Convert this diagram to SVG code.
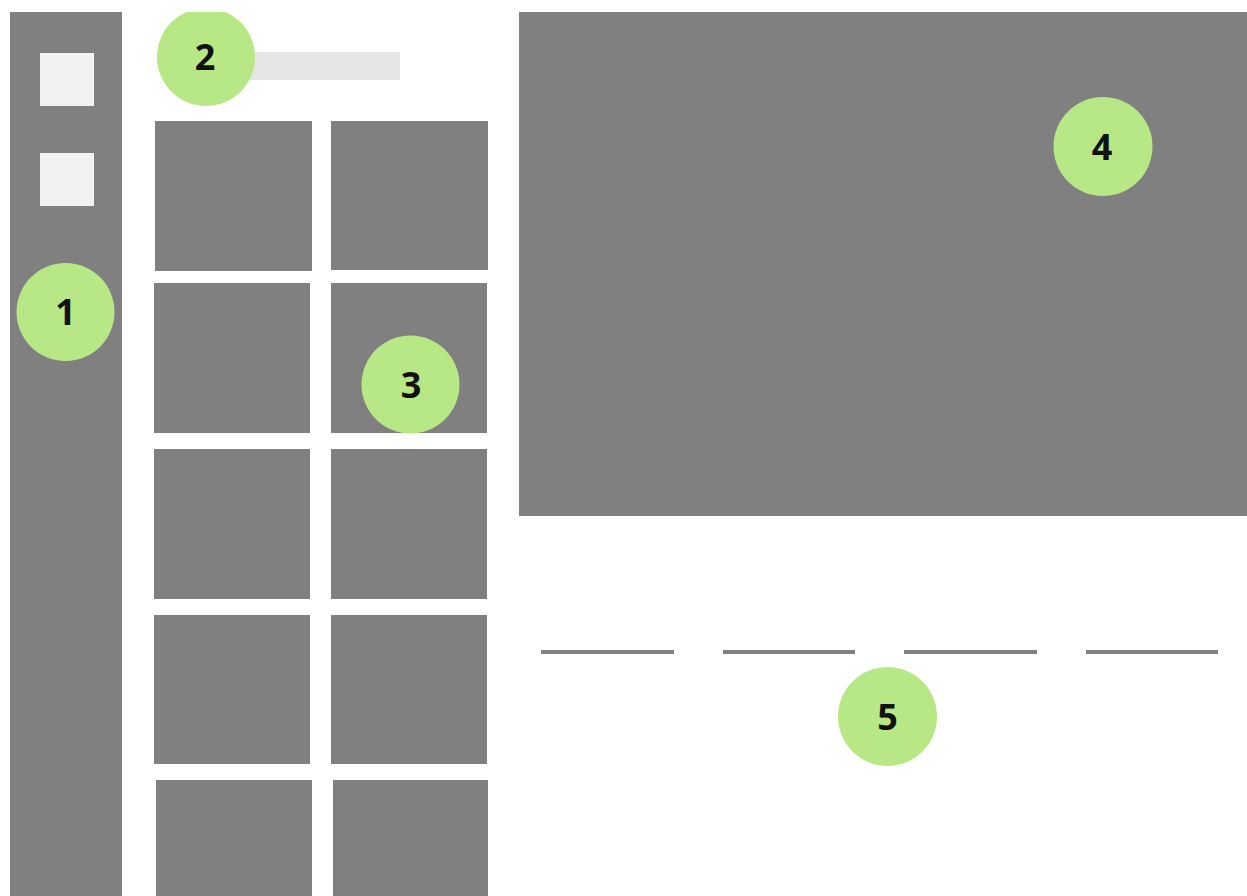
<svg xmlns="http://www.w3.org/2000/svg" width="1247" height="896" viewBox="0 0 1247 896">
  <defs>
    <style>
      .block { fill: #808080; }
      .icon { fill: #f2f2f2; }
      .bar { fill: #e6e6e6; }
      .badge { fill: #b7e885; }
      .num { font-family: "Open Sans", "Liberation Sans", sans-serif; font-weight: bold; font-size: 36px; fill: #111111; text-anchor: middle; }
      .rule { stroke: #808080; stroke-width: 4; }
    </style>
    <clipPath id="page">
      <rect x="0" y="12" width="1247" height="884"/>
    </clipPath>
  </defs>
  <rect x="0" y="0" width="1247" height="896" fill="#ffffff"/>
  <g clip-path="url(#page)">
    <g id="sidebar">
      <rect class="block" x="10" y="12" width="112" height="884"/>
      <rect class="icon" x="40" y="53" width="54" height="53"/>
      <rect class="icon" x="40" y="153" width="54" height="53"/>
    </g>
    <g id="search">
      <rect class="bar" x="250" y="52" width="150" height="28"/>
    </g>
    <g id="grid">
      <rect class="block" x="155" y="121" width="157" height="150"/>
      <rect class="block" x="331" y="121" width="157" height="149"/>
      <rect class="block" x="154" y="283" width="156" height="150"/>
      <rect class="block" x="331" y="283" width="156" height="150"/>
      <rect class="block" x="154" y="449" width="156" height="150"/>
      <rect class="block" x="331" y="449" width="156" height="150"/>
      <rect class="block" x="154" y="615" width="156" height="149"/>
      <rect class="block" x="331" y="615" width="156" height="149"/>
      <rect class="block" x="156" y="780" width="156" height="116"/>
      <rect class="block" x="333" y="780" width="155" height="116"/>
    </g>
    <g id="preview">
      <rect class="block" x="519" y="12" width="728" height="504"/>
    </g>
    <g id="tabs">
      <line class="rule" x1="541" y1="652" x2="674" y2="652"/>
      <line class="rule" x1="723" y1="652" x2="855" y2="652"/>
      <line class="rule" x1="904" y1="652" x2="1037" y2="652"/>
      <line class="rule" x1="1086" y1="652" x2="1218" y2="652"/>
    </g>
    <g id="badge-1">
      <circle class="badge" cx="65.5" cy="312" r="49"/>
      <text class="num" x="65.5" y="325">1</text>
    </g>
    <g id="badge-2">
      <circle class="badge" cx="206" cy="57" r="49"/>
      <text class="num" x="205" y="70">2</text>
    </g>
    <g id="badge-3">
      <circle class="badge" cx="410.5" cy="384.5" r="49"/>
      <text class="num" x="411" y="398">3</text>
    </g>
    <g id="badge-4">
      <circle class="badge" cx="1103" cy="146.5" r="49.5"/>
      <text class="num" x="1102" y="160">4</text>
    </g>
    <g id="badge-5">
      <circle class="badge" cx="887.5" cy="716.5" r="49.5"/>
      <text class="num" x="887.5" y="730">5</text>
    </g>
  </g>
  <g id="connectors"/>
</svg>
